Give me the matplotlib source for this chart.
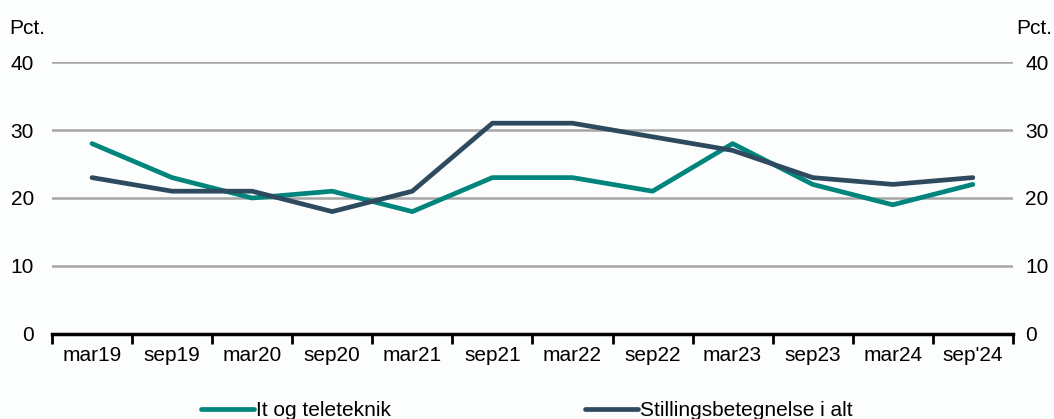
import matplotlib.pyplot as plt
import numpy as np

plt.rcParams["font.family"] = ["Liberation Sans", "DejaVu Sans"]

# --- data ---
periods = ["mar19", "sep19", "mar20", "sep20", "mar21", "sep21",
           "mar22", "sep22", "mar23", "sep23", "mar24", "sep'24"]
it_tele = [28, 23, 20, 21, 18, 23, 23, 21, 28, 22, 19, 22]
stilling_alt = [23, 21, 21, 18, 21, 31, 31, 29, 27, 23, 22, 23]

teal = "#00857D"
navy = "#2E4A5F"
grid_col = "#A6A6A6"
fs = 15

fig = plt.figure(figsize=(10.54, 4.19), dpi=100, facecolor="#FCFDFD")
ax = fig.add_axes([0.0493, 0.2029, 0.9117, 0.6491])
ax.set_facecolor("#FCFDFD")

x = np.arange(len(periods))
ax.plot(x, it_tele, color=teal, lw=3.4, solid_capstyle="round", label="It og teleteknik")
ax.plot(x, stilling_alt, color=navy, lw=3.4, solid_capstyle="round",
        label="Stillingsbetegnelse i alt")

ax.set_xlim(-0.5, len(periods) - 0.5)
ax.set_ylim(0, 40)
ax.set_yticks([0, 10, 20, 30, 40])
for v in [10, 20, 30, 40]:
    ax.axhline(v, color=grid_col, lw=1.8, zorder=0)

# x-axis: labels at centres, ticks at boundaries
ax.set_xticks(x)
ax.set_xticklabels(periods, fontsize=fs)
ax.tick_params(axis="x", which="major", length=0, pad=9)
ax.set_xticks(np.arange(len(periods) + 1) - 0.5, minor=True)
ax.tick_params(axis="x", which="minor", length=7, width=2, direction="out", color="black")

for s in ["top", "left", "right"]:
    ax.spines[s].set_visible(False)
ax.spines["bottom"].set_linewidth(2.5)
ax.spines["bottom"].set_zorder(5)

ax.tick_params(axis="y", length=0, labelsize=fs, pad=13)
ax2 = ax.twinx()
ax2.set_ylim(0, 40)
ax2.set_yticks([0, 10, 20, 30, 40])
ax2.tick_params(axis="y", length=0, labelsize=fs, pad=9)
for s in ["top", "left", "right", "bottom"]:
    ax2.spines[s].set_visible(False)

fig.text(0.009, 0.933, "Pct.", fontsize=fs, ha="left", va="center")
fig.text(0.998, 0.933, "Pct.", fontsize=fs, ha="right", va="center")

fig.legend(loc="center", bbox_to_anchor=(0.5, 0.02), ncol=2, frameon=False,
           fontsize=fs, handlelength=2.55, handletextpad=0.1, columnspacing=9.3)

fig.savefig("out.png", dpi=100, facecolor=fig.get_facecolor())
